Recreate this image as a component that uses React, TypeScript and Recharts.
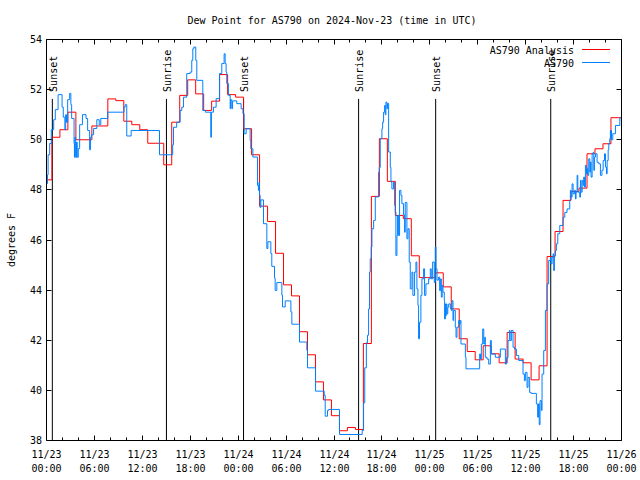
import { LineChart, Line, XAxis, YAxis, ReferenceLine } from 'recharts';

const FONT = '"DejaVu Sans Mono", "Liberation Mono", monospace';

// x axis is hours since 11/23 00:00 UTC
const xTicks = [0, 2, 4, 6, 8, 10, 12, 14, 16, 18, 20, 22, 24, 26, 28, 30, 32, 34, 36, 38, 40, 42, 44, 46, 48, 50, 52, 54, 56, 58, 60, 62, 64, 66, 68, 70, 72];
const xTickDates = ['11/23', '11/23', '11/23', '11/23', '11/24', '11/24', '11/24', '11/24', '11/25', '11/25', '11/25', '11/25', '11/26'];
const xTickTimes = ['00:00', '06:00', '12:00', '18:00', '00:00', '06:00', '12:00', '18:00', '00:00', '06:00', '12:00', '18:00', '00:00'];
const yTicks = [38, 40, 42, 44, 46, 48, 50, 52, 54];

const sunHours = [0.73, 15.02, 24.67, 39.08, 48.73, 63.14];
const sunLabels = ['Sunset', 'Sunrise', 'Sunset', 'Sunrise', 'Sunset', 'Sunrise'];
const SUN_LINE_TOP = 51.63;

// hourly analysis values, each one steps in at about :41 past the hour
const analysisStep = 0.68;
const analysisDewpoint = [
  48.4, 50.1, 50.4, 51.1, 50.0, 50.0, 50.55, 50.55, 51.63, 51.56,
  50.74, 50.6, 50.4, 49.86, 49.86, 49.0, 50.7, 51.77, 52.39, 51.83,
  51.17, 51.54, 52.6, 51.8, 51.7, 50.44, 49.4, 47.35, 46.74, 45.47,
  44.21, 43.77, 42.34, 41.42, 40.34, 39.62, 38.99, 38.39, 38.52, 38.44,
  41.87, 47.74, 50.04, 48.34, 46.98, 46.85, 45.37, 44.5, 44.5, 44.69,
  44.13, 43.25, 42.06, 41.55, 41.22, 41.78, 41.46, 41.1, 42.31, 41.25,
  41.1, 40.42, 40.98, 45.34, 46.34, 47.58, 47.94, 48.07, 49.44, 49.64,
  49.84, 50.88, 50.88,
];

// station observations: [hour, dew point]
const obsDewpoint: [number, number][] = [
  [0, 48.25], [0.12, 48.6], [0.2, 49.4], [0.4, 49.85], [0.6, 50.4], [0.9, 50.8], [1.1, 51.2], [1.45, 51.8],
  [1.95, 51.3], [2.1, 50.9], [2.3, 50.4], [2.4, 51.0], [2.5, 50.7], [2.65, 51.6], [2.9, 51.85], [3.05, 51.4],
  [3.15, 50.85], [3.45, 49.85], [3.5, 49.3], [3.55, 50.1], [3.65, 49.3], [3.75, 49.9], [3.85, 49.3], [3.98, 49.65],
  [4.15, 50.6], [4.5, 51.0], [4.95, 50.85], [5.15, 50.37], [5.4, 49.6], [5.5, 50.1], [5.65, 50.2], [5.9, 50.45],
  [6.3, 50.8], [6.6, 50.6], [6.8, 50.85], [7.66, 51.1], [9.7, 51.3], [9.85, 51.4], [10.05, 50.15], [10.6, 50.37],
  [14.15, 49.4], [15.8, 49.8], [15.9, 50.5], [16.3, 50.7], [16.73, 51.17], [16.94, 51.3], [17.15, 51.7], [17.56, 52.64],
  [17.98, 52.7], [18.19, 53.17], [18.32, 53.63], [18.45, 53.7], [18.69, 53.17], [18.82, 52.37], [19.57, 51.17], [19.9, 51.1],
  [20.57, 50.1], [20.65, 51.1], [20.9, 51.3], [21.24, 51.64], [21.66, 52.64], [21.95, 53.04], [22.24, 53.43], [22.37, 53.04],
  [22.49, 52.7], [22.57, 52.24], [22.78, 51.77], [23.0, 51.24], [23.05, 51.6], [23.2, 51.24], [23.3, 51.55], [23.83, 51.44],
  [24.37, 51.24], [24.6, 51.04], [24.75, 50.24], [25.0, 50.44], [25.5, 49.97], [25.58, 49.64], [25.84, 49.31], [26.42, 48.17],
  [26.54, 47.98], [26.6, 48.3], [26.67, 47.78], [26.75, 47.3], [26.84, 47.6], [27.17, 46.65], [27.59, 45.66], [27.72, 45.93],
  [28.09, 45.46], [28.21, 44.95], [28.55, 44.49], [28.63, 43.99], [28.84, 44.3], [29.47, 43.8], [29.55, 43.33], [29.89, 43.57],
  [30.6, 43.13], [30.72, 42.64], [31.68, 41.93], [32.6, 41.6], [32.68, 40.9], [33.69, 39.97], [34.77, 39.8], [34.9, 38.97],
  [35.19, 39.2], [35.32, 39.24], [36.69, 38.24], [39.53, 38.4], [39.7, 39.5], [39.85, 40.9], [40.05, 41.9], [40.2, 42.2],
  [40.33, 43.25], [40.45, 44.72], [40.54, 45.25], [40.66, 45.72], [40.75, 46.45], [40.96, 46.78], [41.17, 47.72], [41.58, 48.71],
  [41.67, 48.9], [41.79, 50.04], [42.0, 50.44], [42.09, 50.7], [42.21, 51.1], [42.34, 51.37], [42.42, 51.0], [42.5, 51.5],
  [42.63, 51.24], [42.71, 51.45], [42.84, 49.51], [43.05, 48.9], [43.13, 48.31], [43.25, 48.04], [43.46, 48.31], [43.59, 47.38],
  [43.67, 47.12], [43.75, 45.38], [43.88, 46.18], [43.96, 46.98], [44.09, 46.18], [44.21, 47.98], [44.38, 47.78], [44.5, 47.45],
  [44.71, 47.0], [44.84, 46.31], [44.92, 47.5], [45.13, 46.05], [45.26, 46.45], [45.42, 45.12], [45.55, 44.05], [45.76, 44.72],
  [45.88, 43.79], [46.09, 44.72], [46.26, 45.12], [46.38, 44.05], [46.51, 43.39], [46.59, 42.06], [46.71, 42.72], [46.88, 43.79],
  [47.01, 44.45], [47.22, 44.85], [47.34, 43.79], [47.51, 44.25], [47.85, 44.45], [48.06, 44.85], [48.18, 44.45], [48.35, 45.12],
  [48.56, 44.3], [48.68, 45.72], [48.77, 44.85], [48.9, 44.4], [49.1, 44.52], [49.23, 43.98], [49.35, 44.45], [49.44, 43.72],
  [49.55, 44.19], [49.65, 43.92], [49.81, 43.58], [49.85, 42.85], [49.95, 43.45], [50.0, 42.98], [50.06, 43.45], [50.15, 43.05],
  [50.25, 43.32], [50.36, 43.45], [50.57, 43.25], [50.7, 43.19], [50.78, 43.58], [50.9, 42.79], [50.98, 43.19], [51.19, 42.52],
  [51.28, 42.12], [51.4, 42.52], [51.61, 42.79], [51.7, 42.65], [51.8, 42.79], [51.9, 41.85], [52.45, 41.32], [52.53, 40.86],
  [54.24, 41.45], [54.35, 41.25], [54.45, 41.85], [54.62, 42.45], [54.75, 41.85], [54.87, 42.12], [54.95, 41.32], [55.16, 41.25],
  [55.37, 41.05], [55.58, 41.99], [55.7, 41.45], [56.2, 41.32], [56.83, 41.65], [57.46, 41.05], [57.6, 41.3], [57.79, 41.99],
  [57.96, 42.39], [58.05, 41.99], [58.21, 42.39], [58.42, 41.72], [58.6, 41.65], [58.84, 41.39], [59.13, 41.19], [59.67, 40.65],
  [59.84, 40.39], [59.96, 40.72], [60.17, 40.12], [60.3, 40.52], [60.5, 39.92], [60.67, 39.88], [61.34, 39.46], [61.5, 38.93],
  [61.6, 39.46], [61.7, 38.63], [61.8, 39.59], [61.97, 39.2], [62.05, 40.65], [62.26, 41.59], [62.47, 43.19], [62.68, 44.25],
  [62.88, 45.18], [63.1, 45.31], [63.18, 45.05], [63.31, 45.31], [63.43, 45.45], [63.51, 44.78], [63.6, 45.38], [63.72, 45.58],
  [63.85, 45.85], [64.02, 46.25], [64.27, 46.58], [64.68, 46.91], [64.9, 47.1], [65.18, 47.24], [65.52, 47.58], [65.6, 47.98],
  [65.69, 47.71], [65.81, 48.24], [65.94, 47.84], [66.1, 47.98], [66.23, 47.64], [66.31, 47.91], [66.44, 48.58], [66.53, 47.91],
  [66.77, 47.71], [66.86, 48.38], [66.94, 47.91], [67.07, 48.38], [67.19, 48.18], [67.27, 48.51], [67.36, 48.11], [67.48, 48.98],
  [67.61, 48.64], [67.69, 48.84], [67.78, 48.58], [67.9, 49.24], [68.03, 48.71], [68.11, 49.11], [68.19, 48.51], [68.32, 49.44],
  [68.45, 49.5], [68.53, 48.78], [68.61, 49.31], [68.74, 49.44], [68.94, 49.1], [69.15, 49.04], [69.36, 48.58], [69.55, 48.78],
  [69.7, 49.17], [69.87, 49.44], [69.99, 48.91], [70.12, 48.64], [70.2, 49.17], [70.33, 49.6], [70.41, 49.84], [70.53, 50.04],
  [70.61, 50.37], [70.75, 50.0], [70.91, 50.24], [71.24, 50.57], [71.79, 50.88], [71.9, 50.88],
];

const analysisData = analysisDewpoint.map((v, i) => ({ h: i === 0 ? 0 : analysisStep + i - 1, v }));
analysisData.push({ h: 72, v: analysisDewpoint[analysisDewpoint.length - 1] });
const obsData = obsDewpoint.map(([h, v]) => ({ h, v }));

const RED = '#ff0000';
const BLUE = '#0080ff';

// snap to the pixel grid so 1px ticks stay sharp
const crisp = (n: number) => Math.round(n - 0.5) + 0.5;

const textStyle = { fontFamily: FONT, fontSize: 10, fill: '#000' };

function BottomTick(props: any) {
  const { x, y, payload } = props;
  const h = payload.value;
  const cx = crisp(x);
  const major = h % 6 === 0;
  return (
    <g>
      <line x1={cx} y1={y} x2={cx} y2={y - (major ? 5 : 3)} stroke="#000" />
      {major && (
        <>
          <text x={cx} y={y + 17.5} textAnchor="middle" style={textStyle}>{xTickDates[h / 6]}</text>
          <text x={cx} y={y + 31.5} textAnchor="middle" style={textStyle}>{xTickTimes[h / 6]}</text>
        </>
      )}
    </g>
  );
}

function TopTick(props: any) {
  const { x, y, payload } = props;
  const major = payload.value % 6 === 0;
  const cx = crisp(x);
  return <line x1={cx} y1={y} x2={cx} y2={y + (major ? 5 : 3)} stroke="#000" />;
}

function LeftTick(props: any) {
  const { x, y, payload } = props;
  const cy = crisp(y);
  return (
    <g>
      <line x1={x} y1={cy} x2={x + 5} y2={cy} stroke="#000" />
      <text x={x - 4.5} y={cy + 3.5} textAnchor="end" style={textStyle}>{payload.value}</text>
    </g>
  );
}

function RightTick(props: any) {
  const { x, y } = props;
  const cy = crisp(y);
  return <line x1={x} y1={cy} x2={x - 5} y2={cy} stroke="#000" />;
}

function SunLabel(props: any) {
  const { viewBox, text } = props;
  const x = crisp(viewBox.x) + 4.5;
  const y = viewBox.y - 7;
  return (
    <text x={x} y={y} transform={`rotate(-90 ${x} ${y})`} textAnchor="start" style={textStyle}>{text}</text>
  );
}

export default function App() {
  return (
    <div style={{ position: 'absolute', left: 0, top: 0, width: 640, height: 480, background: '#fff' }}>
      <LineChart width={640} height={480} margin={{ top: 0, right: 0, bottom: 0, left: 0 }}>
        <XAxis
          dataKey="h"
          type="number"
          domain={[0, 72]}
          ticks={xTicks}
          interval={0}
          allowDataOverflow
          height={39.5}
          tickLine={false}
          tickSize={0}
          tickMargin={0}
          axisLine={{ stroke: '#000' }}
          tick={<BottomTick />}
        />
        <XAxis
          xAxisId="top"
          orientation="top"
          dataKey="h"
          type="number"
          domain={[0, 72]}
          ticks={xTicks}
          interval={0}
          allowDataOverflow
          height={39.5}
          tickLine={false}
          tickSize={0}
          tickMargin={0}
          axisLine={{ stroke: '#000' }}
          tick={<TopTick />}
        />
        <YAxis
          type="number"
          domain={[38, 54]}
          ticks={yTicks}
          interval={0}
          allowDataOverflow
          width={46.5}
          tickLine={false}
          tickSize={0}
          tickMargin={0}
          axisLine={{ stroke: '#000' }}
          tick={<LeftTick />}
        />
        <YAxis
          yAxisId="right"
          orientation="right"
          type="number"
          domain={[38, 54]}
          ticks={yTicks}
          interval={0}
          allowDataOverflow
          width={18.5}
          tickLine={false}
          tickSize={0}
          tickMargin={0}
          axisLine={{ stroke: '#000' }}
          tick={<RightTick />}
        />
        {sunHours.map((h, i) => (
          <ReferenceLine
            key={i}
            segment={[{ x: h, y: 38 }, { x: h, y: SUN_LINE_TOP }]}
            stroke="#000"
            strokeWidth={1}
            label={<SunLabel text={sunLabels[i]} />}
          />
        ))}
        <Line
          data={analysisData}
          dataKey="v"
          name="AS790 Analysis"
          type="stepAfter"
          stroke={RED}
          strokeWidth={1}
          dot={false}
          isAnimationActive={false}
        />
        <Line
          data={obsData}
          dataKey="v"
          name="AS790"
          type="stepAfter"
          stroke={BLUE}
          strokeWidth={1}
          dot={false}
          isAnimationActive={false}
        />
      </LineChart>
      <svg width={640} height={480} style={{ position: 'absolute', left: 0, top: 0, pointerEvents: 'none' }}>
        <text x={332} y={23.5} textAnchor="middle" style={textStyle}>
          Dew Point for AS790 on 2024-Nov-23 (time in UTC)
        </text>
        <text x={14.5} y={240} transform="rotate(-90 14.5 240)" textAnchor="middle" style={textStyle}>
          degrees F
        </text>
        <text x={574} y={53.5} textAnchor="end" style={textStyle}>AS790 Analysis</text>
        <line x1={582} y1={49.5} x2={610} y2={49.5} stroke={RED} />
        <text x={574} y={66.5} textAnchor="end" style={textStyle}>AS790</text>
        <line x1={582} y1={62.5} x2={610} y2={62.5} stroke={BLUE} />
      </svg>
    </div>
  );
}
